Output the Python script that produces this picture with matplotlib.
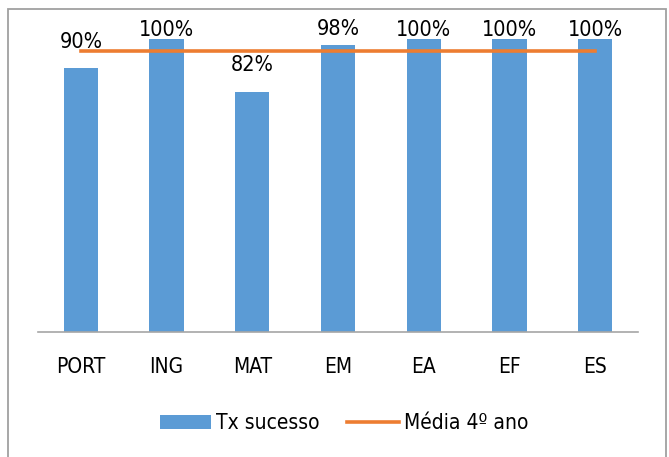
import matplotlib
matplotlib.use('Agg')
import matplotlib.pyplot as plt
from matplotlib import font_manager as fm
from matplotlib.patches import Patch, Rectangle
from matplotlib.lines import Line2D

# data
disciplinas = ['PORT', 'ING', 'MAT', 'EM', 'EA', 'EF', 'ES']
tx_sucesso = [0.90, 1.00, 0.82, 0.98, 1.00, 1.00, 1.00]
media_4ano = [0.96, 0.96, 0.96, 0.96, 0.96, 0.96, 0.96]
rotulos = ['90%', '100%', '82%', '98%', '100%', '100%', '100%']

# label offsets above bar top (points) - some labels were moved by hand in the original
lbl_off = [11.5, -0.7, 12, 4.3, -0.7, -0.7, -0.7]

azul = '#5B9BD5'
laranja = '#ED7D31'

# look for a condensed face, the original uses a narrow DIN-like font
cand = []
for f in fm.fontManager.ttflist:
    nm = (f.name + ' ' + f.fname).lower()
    if ('narrow' in nm or 'condensed' in nm) and 'bold' not in nm and 'oblique' not in nm and 'italic' not in nm:
        cand.append(f)
cand.sort(key=lambda f: (0 if 'dejavu' in f.fname.lower() else 1, f.fname))
fnome = cand[0].fname if cand else None

def fp(size):
    if fnome:
        return fm.FontProperties(fname=fnome, size=size)
    return fm.FontProperties(family='DejaVu Sans', size=size)

fig = plt.figure(figsize=(6.69, 4.57), dpi=100)
ax = fig.add_axes([38/669, 1 - 332/457, 600/669, 293/457])

x = range(len(disciplinas))
ax.bar(x, tx_sucesso, width=0.4, color=azul, zorder=2)
ax.plot(x, media_4ano, color=laranja, lw=2.6, zorder=3)

for i in x:
    ax.annotate(rotulos[i], (i, tx_sucesso[i]), xytext=(0, lbl_off[i]),
                textcoords='offset points', ha='center', va='bottom',
                fontproperties=fp(15.5), color='black', annotation_clip=False, zorder=4)

ax.set_xlim(-0.5, 6.5)
ax.set_ylim(0, 1.0)
ax.set_xticks(list(x))
ax.set_xticklabels(disciplinas, fontproperties=fp(15))
ax.tick_params(axis='x', length=0, pad=18)
ax.set_yticks([])
for s in ['top', 'right', 'left']:
    ax.spines[s].set_visible(False)
ax.spines['bottom'].set_color('#A6A6A6')
ax.spines['bottom'].set_linewidth(1.2)

handles = [Patch(facecolor=azul, edgecolor='none'),
           Line2D([0], [0], color=laranja, lw=2.6)]
fig.legend(handles, ['Tx sucesso', 'Média 4º ano'], loc='center',
           bbox_to_anchor=(0.514, 0.074), ncol=2, frameon=False,
           prop=fp(15), handlelength=2.45, handleheight=0.7,
           handletextpad=0.25, columnspacing=1.35)

# outer chart border
fig.patches.append(Rectangle((8/669, -0.05), 658/669, 1 - 9/457 + 0.05,
                             transform=fig.transFigure, fill=False,
                             edgecolor='#A0A0A0', lw=1.3))

if fnome:
    print(fnome)
fig.savefig('out.png', dpi=100)
